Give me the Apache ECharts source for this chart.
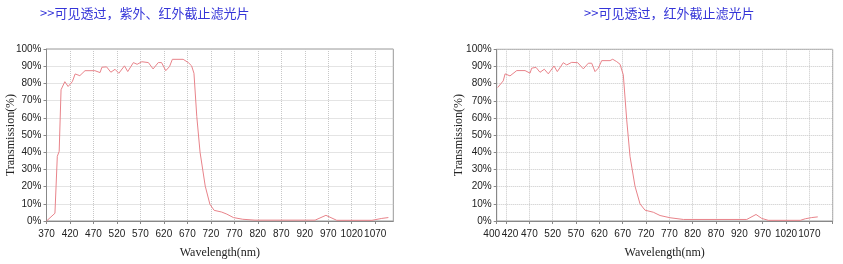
<!DOCTYPE html>
<html><head><meta charset="utf-8">
<script src="https://cdn.jsdelivr.net/npm/echarts@6/dist/echarts.min.js"></script>
<style>html,body{margin:0;padding:0;background:#fff}#c{width:843px;height:264px}</style>
</head><body><div id="c"></div>
<script>
const leftTitle = '>>可见透过，紫外、红外截止滤光片';
const rightTitle = '>>可见透过，红外截止滤光片';
const xAxisName = 'Wavelength(nm)';
const yAxisName = 'Transmission(%)';

const leftWavelength = [370, 388, 393, 397, 401, 409, 416, 425, 431, 441, 452, 473, 484, 488, 498, 507, 516, 524, 536, 543, 555, 563, 573, 587, 597, 608, 615, 624, 632, 638, 661, 672, 679, 684, 690, 697, 708, 718, 727, 743, 754, 768, 788, 814, 942, 965, 988, 1063, 1084, 1098];
const leftTransmission = [0, 4.5, 37.6, 40.5, 76.3, 81, 78.2, 81, 85.5, 84.5, 87.4, 87.4, 86.3, 89.4, 89.6, 86.5, 88.2, 85.9, 90.2, 86.9, 92.1, 91.1, 92.6, 92.1, 88.4, 92.1, 92.1, 87.4, 89.8, 94, 94, 92.1, 90.2, 85.9, 60.8, 40, 20.3, 9.7, 6.2, 5.2, 4, 2, 1, 0.5, 0.5, 3.3, 0.4, 0.4, 1.5, 2];

const rightWavelength = [402, 414, 418, 428.5, 443, 460.7, 471.4, 475, 484.2, 492.8, 502, 510.6, 522.8, 529.9, 542.7, 550, 560.7, 573.6, 585.6, 596.3, 603.6, 610.7, 617.7, 625, 642.8, 648.6, 657.2, 664.3, 671.3, 678.6, 685.7, 696.4, 707.1, 717.8, 735.6, 750, 771.4, 800, 935.8, 955.7, 968, 982, 1050.6, 1061.3, 1075, 1088];
const rightTransmission = [77.7, 81.6, 85.7, 84.5, 87.6, 87.6, 86.1, 89, 89.5, 86.6, 88.4, 85.7, 90.3, 87, 92.2, 90.9, 92.4, 92.2, 88.6, 91.9, 91.9, 87, 89, 93.4, 93.4, 94.2, 92.8, 91.3, 85.1, 58.9, 37.6, 20.2, 10, 6.3, 5.1, 3.2, 1.9, 0.9, 0.9, 3.8, 1.5, 0.4, 0.4, 1.3, 2, 2.4];

const leftTicks = [370, 420, 470, 520, 570, 620, 670, 720, 770, 820, 870, 920, 970, 1020, 1070];
const rightTicks = [400, 420, 470, 520, 570, 620, 670, 720, 770, 820, 870, 920, 970, 1020, 1070, 1120];
const rightLabels = [400, 420, 470, 520, 570, 620, 670, 720, 770, 820, 870, 920, 970, 1020, 1070];

const zip = (a, b) => a.map((v, i) => [v, b[i]]);

const gridLine = { show: true, lineStyle: { color: '#c8c8c8', type: 'dotted', width: 1 } };
const labelFont = { fontFamily: 'Liberation Sans', fontSize: 10, color: '#222' };
const nameFont = { fontFamily: 'Liberation Serif', fontSize: 12, color: '#222' };

function xAxis(idx, min, max, ticks, labels, fmt) {
  return {
    type: 'value', gridIndex: idx, min: min, max: max,
    name: xAxisName, nameLocation: 'middle', nameGap: 26, nameTextStyle: nameFont,
    axisLine: { show: true, lineStyle: { color: '#888' } },
    axisTick: { show: true, length: 3, customValues: ticks, lineStyle: { color: '#888' } },
    axisLabel: Object.assign({ customValues: labels, margin: 8, formatter: fmt, rich: {
      l: { fontFamily: 'Liberation Sans', fontSize: 10, color: '#222', padding: [0, 10, 0, 0] },
      r: { fontFamily: 'Liberation Sans', fontSize: 10, color: '#222', padding: [0, 0, 0, 8] }
    } }, labelFont),
    splitLine: gridLine
  };
}
function yAxis(idx, gap) {
  return {
    type: 'value', gridIndex: idx, min: 0, max: 100, interval: 10,
    name: yAxisName, nameLocation: 'middle', nameGap: gap, nameMoveOverlap: false, nameTextStyle: nameFont,
    axisLine: { show: true, lineStyle: { color: '#888' } },
    axisTick: { show: true, length: 3, lineStyle: { color: '#888' } },
    axisLabel: Object.assign({ formatter: '{value}%', margin: 5 }, labelFont),
    splitLine: gridLine
  };
}

const chart = echarts.init(document.getElementById('c'), null, { renderer: 'canvas' });
chart.setOption({
  animation: false,
  backgroundColor: '#fff',
  title: [
    { text: leftTitle, left: 40, top: 7, padding: 0, textStyle: { fontFamily: 'Noto Sans CJK SC', fontSize: 13, fontWeight: 'normal', color: '#3535d8' } },
    { text: rightTitle, left: 584, top: 7, padding: 0, textStyle: { fontFamily: 'Noto Sans CJK SC', fontSize: 13, fontWeight: 'normal', color: '#3535d8' } }
  ],
  grid: [
    { left: 46.5, top: 49, width: 346.8, height: 172.7, show: true, borderColor: '#999', borderWidth: 1 },
    { left: 496.7, top: 49.3, width: 336, height: 172.2, show: true, borderColor: '#999', borderWidth: 1 }
  ],
  xAxis: [
    xAxis(0, 370, 1108.5, leftTicks, leftTicks, v => String(v)),
    xAxis(1, 400, 1120, rightTicks, rightLabels, v => v === 400 ? '{l|400}' : (v === 420 ? '{r|420}' : String(v)))
  ],
  yAxis: [yAxis(0, 30), yAxis(1, 32)],
  series: [
    { type: 'line', xAxisIndex: 0, yAxisIndex: 0, data: zip(leftWavelength, leftTransmission), showSymbol: false, symbol: 'none', z: 5, lineStyle: { color: '#e8838a', width: 1 } },
    { type: 'line', xAxisIndex: 1, yAxisIndex: 1, data: zip(rightWavelength, rightTransmission), showSymbol: false, symbol: 'none', z: 5, lineStyle: { color: '#e8838a', width: 1 } }
  ]
});
</script>
</body></html>
